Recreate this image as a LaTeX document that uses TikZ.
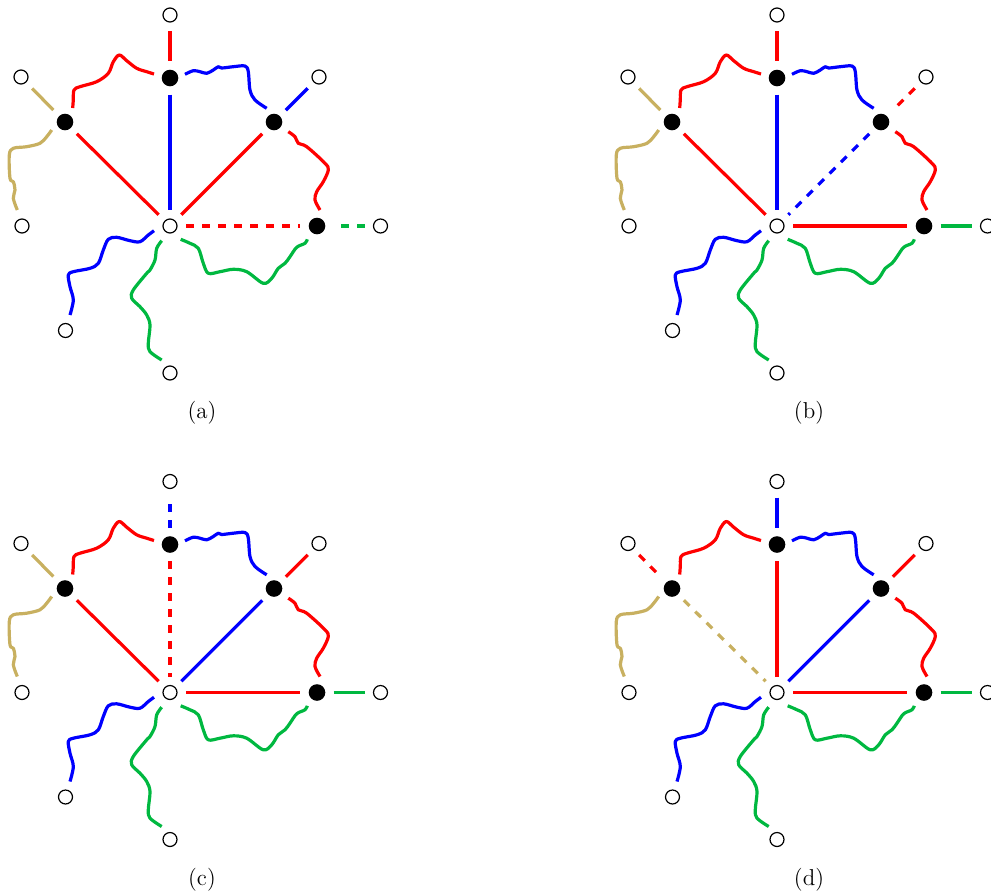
\documentclass[tikz,border=0pt]{standalone}
\definecolor{grn}{RGB}{0,184,64}
\definecolor{olv}{RGB}{200,176,96}
\tikzset{
  blk/.style={circle, fill=black, minimum size=8.3pt, inner sep=0pt, outer sep=0pt},
  wht/.style={circle, draw=black, fill=white, line width=0.6pt, minimum size=7pt, inner sep=0pt},
  conn/.style={line width=1.6pt, shorten <=4.2pt, shorten >=4.2pt},
  dsh/.style={dash pattern=on 4pt off 4pt},
  wavy/.style={line width=1.6pt, line join=round},
  lbl/.style={font=\fontsize{11.5}{14}\selectfont, inner sep=0pt},
}
\newcommand\panelnodes[1]{%
  \node[wht] (#1-v) at (170,226) {};
  \node[blk] (#1-t) at (170,78) {};
  \node[blk] (#1-ul) at (65,122) {};
  \node[blk] (#1-ur) at (274,122) {};
  \node[blk] (#1-r) at (317,226) {};
  \node[wht] (#1-wt) at (170,15) {};
  \node[wht] (#1-wul) at (21,77) {};
  \node[wht] (#1-wur) at (319,77) {};
  \node[wht] (#1-wl) at (22,226) {};
  \node[wht] (#1-wr) at (380.5,226) {};
  \node[wht] (#1-wbl) at (65.5,330.5) {};
  \node[wht] (#1-wb) at (170,373) {};
  \draw[wavy,red] plot[smooth,tension=0.55] coordinates {(72.7,108) (73.3,100) (74,90) (80,86.7) (96.7,81.7) (108.3,73.3) (113.3,61.7) (119.3,55) (126.7,60.7) (136.7,68.3) (146.7,71.7) (154,74)};
  \draw[wavy,blue] plot[smooth,tension=0.55] coordinates {(185,74.3) (193.3,70.7) (200,71.7) (206.7,73.3) (213.3,70) (218.3,66.7) (221.7,68) (233.3,66.7) (245,66) (248.3,71.7) (250,90) (255,100) (266.7,108.3)};
  \draw[wavy,red] plot[smooth,tension=0.55] coordinates {(288.3,131.7) (295,136.7) (298.3,143.3) (306.7,146.7) (325,163.3) (328.3,170) (323.3,181.7) (316.7,191.7) (315,200) (320,210)};
  \draw[wavy,grn] plot[smooth,tension=0.55] coordinates {(180.7,239.3) (190,243.3) (198.3,248.3) (203.3,263.3) (208.3,273.3) (220,271.7) (233.3,269.3) (246.7,271.7) (263.3,283.3) (271.7,278.3) (278.3,268.3) (285,263.3) (290,256.7) (296.7,247.3) (305,243.3) (307.3,239.3)};
  \draw[wavy,grn] plot[smooth,tension=0.55] coordinates {(161.7,240.7) (156.7,248.3) (155,260) (150,270) (146.7,273.3) (133.3,290) (131.7,298.3) (140,306.7) (146.7,315) (150,325) (148.3,343.3) (150,351.7) (161.7,360)};
  \draw[wavy,blue] plot[smooth,tension=0.55] coordinates {(154,230.7) (148.3,235) (140,241.7) (130,240.7) (116.7,237.3) (108.3,239.3) (103.3,250) (98.3,263.3) (90,268.3) (73.3,271.7) (68.3,275) (70,286.7) (73.3,300) (70,315)};
  \draw[wavy,olv] plot[smooth,tension=0.55] coordinates {(51.7,130) (46.7,136.7) (40,143.3) (26.7,146.7) (13.3,148.3) (9.3,155) (10,178.3) (13.3,181.7) (15,190) (13.3,198.3) (17.3,210)};
}
\begin{document}
\begin{tikzpicture}[x=0.5pt,y=-0.5pt]
\useasboundingbox (0,0) rectangle (991,895);
% panel (a)
\begin{scope}
  \panelnodes{a}
  \draw[conn,red] (a-wt) -- (a-t);
  \draw[conn,blue] (a-t) -- (a-v);
  \draw[conn,red] (a-ul) -- (a-v);
  \draw[conn,red] (a-ur) -- (a-v);
  \draw[conn,red,dsh] (a-v) -- (a-r);
  \draw[conn,blue] (a-ur) -- (a-wur);
  \draw[conn,grn,dsh] (a-wr) -- (a-r);
  \draw[conn,olv] (a-ul) -- (a-wul);
  \node[lbl] (la) at (202,413) {(a)};
\end{scope}
% panel (b)
\begin{scope}[shift={(607,0)}]
  \panelnodes{b}
  \draw[conn,red] (b-wt) -- (b-t);
  \draw[conn,blue] (b-t) -- (b-v);
  \draw[conn,red] (b-ul) -- (b-v);
  \draw[conn,blue,dsh] (b-ur) -- (b-v);
  \draw[conn,red] (b-v) -- (b-r);
  \draw[conn,red,dsh] (b-wur) -- (b-ur);
  \draw[conn,grn] (b-r) -- (b-wr);
  \draw[conn,olv] (b-ul) -- (b-wul);
  \node[lbl] (lb) at (202,413) {(b)};
\end{scope}
% panel (c)
\begin{scope}[shift={(0,466.5)}]
  \panelnodes{c}
  \draw[conn,blue,dsh] (c-t) -- (c-wt);
  \draw[conn,red,dsh] (c-t) -- (c-v);
  \draw[conn,red] (c-ul) -- (c-v);
  \draw[conn,blue] (c-ur) -- (c-v);
  \draw[conn,red] (c-v) -- (c-r);
  \draw[conn,red] (c-ur) -- (c-wur);
  \draw[conn,grn] (c-r) -- (c-wr);
  \draw[conn,olv] (c-ul) -- (c-wul);
  \node[lbl] (lc) at (202,413) {(c)};
\end{scope}
% panel (d)
\begin{scope}[shift={(607,466.5)}]
  \panelnodes{d}
  \draw[conn,blue] (d-wt) -- (d-t);
  \draw[conn,red] (d-t) -- (d-v);
  \draw[conn,olv,dsh] (d-ul) -- (d-v);
  \draw[conn,blue] (d-ur) -- (d-v);
  \draw[conn,red] (d-v) -- (d-r);
  \draw[conn,red] (d-ur) -- (d-wur);
  \draw[conn,grn] (d-r) -- (d-wr);
  \draw[conn,red,dsh] (d-wul) -- (d-ul);
  \node[lbl] (ld) at (202,413) {(d)};
\end{scope}
\end{tikzpicture}
\end{document}
